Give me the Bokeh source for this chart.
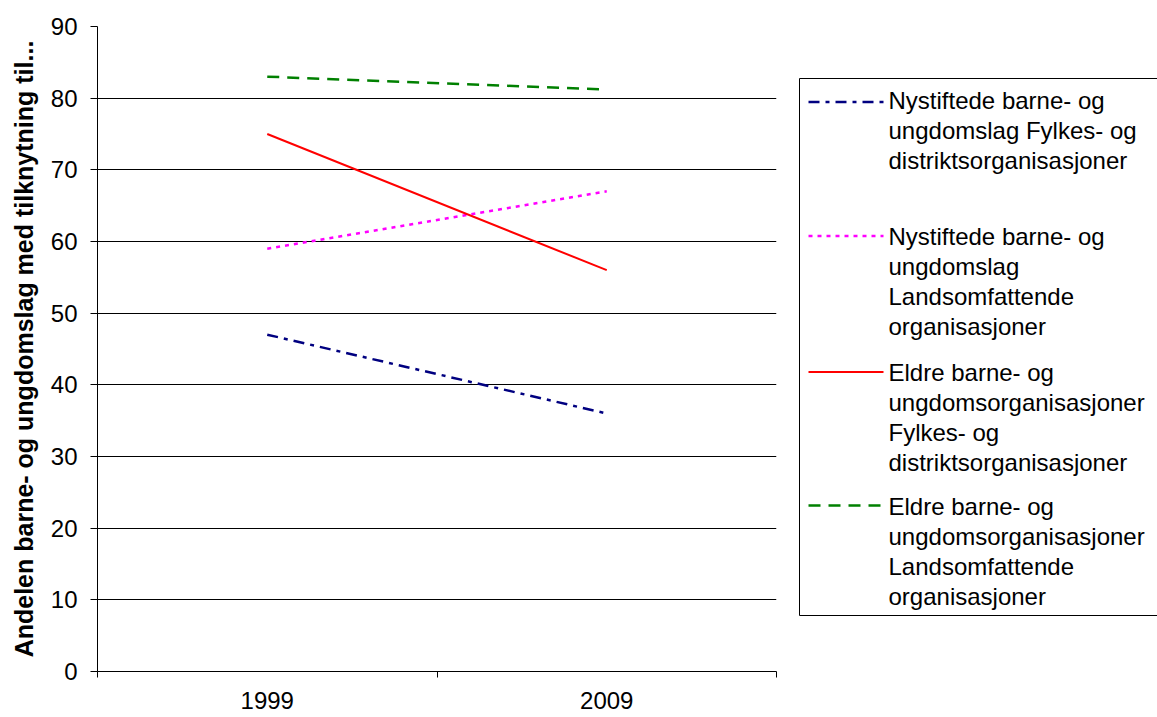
from bokeh.plotting import figure
from bokeh.layouts import row
from bokeh.models import Range1d, FixedTicker
from bokeh.embed import file_html
from bokeh.resources import INLINE
from bokeh.core.properties import value

# ---------------- data ----------------
years = ["1999", "2009"]
nystiftede_fylkes = [47, 36]
nystiftede_lands = [59, 67]
eldre_fylkes = [75, 56]
eldre_lands = [83, 81.2]
y_ticks = [0, 10, 20, 30, 40, 50, 60, 70, 80, 90]
y_title = "Andelen barne- og ungdomslag med tilknytning til..."
series_labels = [
    ["Nystiftede barne- og", "ungdomslag Fylkes- og", "distriktsorganisasjoner"],
    ["Nystiftede barne- og", "ungdomslag", "Landsomfattende", "organisasjoner"],
    ["Eldre barne- og", "ungdomsorganisasjoner", "Fylkes- og", "distriktsorganisasjoner"],
    ["Eldre barne- og", "ungdomsorganisasjoner", "Landsomfattende", "organisasjoner"],
]

FONT = "Liberation Sans"
series_values = [nystiftede_fylkes, nystiftede_lands, eldre_fylkes, eldre_lands]
styles = [
    dict(line_color="#000080", line_width=2.5, line_dash="11 6 4 6"),
    dict(line_color="#FF00FF", line_width=2.5, line_dash="4 5"),
    dict(line_color="#FF0000", line_width=2, line_dash="solid"),
    dict(line_color="#008000", line_width=2.5, line_dash="12 8"),
]

xs = [i + 0.5 for i in range(len(years))]
bounds = list(range(len(years) + 1))

W, H = 790, 717
B_LEFT, B_RIGHT, B_TOP, B_BOTTOM = 97, 14, 26, 46

# ---------------- main chart ----------------
p = figure(width=W, height=H, output_backend="svg", toolbar_location=None,
           x_range=Range1d(0, len(years)), y_range=Range1d(min(y_ticks), max(y_ticks)),
           min_border_left=B_LEFT, min_border_right=B_RIGHT,
           min_border_top=B_TOP, min_border_bottom=B_BOTTOM)
p.outline_line_color = None
p.background_fill_color = "white"
p.border_fill_color = "white"

for vals, st in zip(series_values, styles):
    p.line(xs, vals, **st)

p.xgrid.visible = False
p.ygrid.ticker = FixedTicker(ticks=y_ticks)
p.ygrid.grid_line_color = "black"
p.ygrid.grid_line_width = 1

ya = p.yaxis[0]
ya.ticker = FixedTicker(ticks=y_ticks)
ya.major_tick_out = 7
ya.major_tick_in = 0
ya.minor_tick_out = 0
ya.minor_tick_in = 0
ya.major_label_standoff = 13
ya.major_label_text_font = FONT
ya.major_label_text_font_size = "24px"
ya.major_label_text_color = "black"
ya.axis_line_color = "black"
ya.major_tick_line_color = "black"
ya.axis_label = y_title
ya.axis_label_text_font = FONT
ya.axis_label_text_font_style = "bold"
ya.axis_label_text_font_size = "25px"
ya.axis_label_text_color = "black"
ya.axis_label_standoff = 10

xa = p.xaxis[0]
xa.ticker = FixedTicker(ticks=xs, minor_ticks=bounds)
xa.major_label_overrides = {x: y for x, y in zip(xs, years)}
xa.major_tick_out = 0
xa.major_tick_in = 0
xa.minor_tick_out = 6
xa.minor_tick_in = 0
xa.minor_tick_line_color = "black"
xa.axis_line_color = "black"
xa.major_label_standoff = 14
xa.major_label_text_font = FONT
xa.major_label_text_font_size = "24px"
xa.major_label_text_color = "black"

# ---------------- legend panel (pixel-like coordinates, y downward) ----------------
LW = 367
lg = figure(width=LW, height=H, output_backend="svg", toolbar_location=None,
            x_range=Range1d(0, LW), y_range=Range1d(H - B_BOTTOM, B_TOP),
            min_border_left=0, min_border_right=0,
            min_border_top=B_TOP, min_border_bottom=B_BOTTOM,
            x_axis_location=None, y_axis_location=None)
lg.outline_line_color = None
lg.grid.visible = False
lg.background_fill_color = "white"
lg.border_fill_color = "white"

lg.quad(left=[9], right=[400], top=[78], bottom=[615],
        fill_color="white", line_color="black", line_width=1)

glyph_y = [101.5, 235.5, 371.5, 505]
first_baseline = [99.5, 236, 372, 506]
line_step = 30
tx, ty, tt = [], [], []
for gy, base, labels, st in zip(glyph_y, first_baseline, series_labels, styles):
    lg.segment(x0=[18], y0=[gy], x1=[93], y1=[gy], **st)
    for j, s in enumerate(labels):
        tx.append(98)
        ty.append(base + j * line_step)
        tt.append(s)
lg.text(x=tx, y=ty, text=tt, text_font=value(FONT), text_font_size="24px",
        text_baseline="alphabetic", text_align="left", text_color="black")

layout = row(p, lg)
open("out.html", "w").write(file_html(layout, INLINE))
